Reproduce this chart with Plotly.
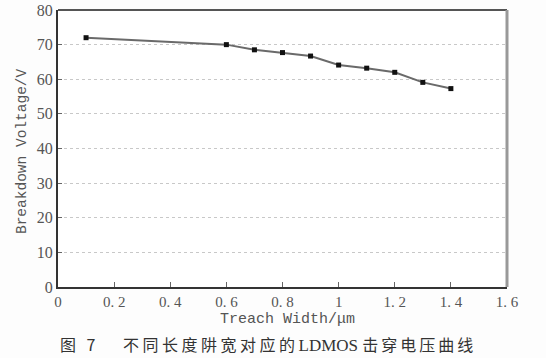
import plotly.graph_objects as go

width_um = [0.1, 0.6, 0.7, 0.8, 0.9, 1.0, 1.1, 1.2, 1.3, 1.4]
breakdown_v = [72.0, 70.0, 68.5, 67.7, 66.7, 64.1, 63.2, 62.0, 59.1, 57.3]

x_tickvals = [0, 0.2, 0.4, 0.6, 0.8, 1.0, 1.2, 1.4, 1.6]
x_ticktext = ["0", "0. 2", "0. 4", "0. 6", "0. 8", "1", "1. 2", "1. 4", "1. 6"]
y_tickvals = [0, 10, 20, 30, 40, 50, 60, 70, 80]

x_title = "Treach Width/μm"
y_title = "Breakdown Voltage/V"
caption_fig = "图 7"
caption_a = "不同长度阱宽对应的"
caption_b = "LDMOS"
caption_c = "击穿电压曲线"

fig = go.Figure()
fig.add_trace(go.Scatter(
    x=width_um, y=breakdown_v, mode="lines+markers",
    line=dict(color="#6a6a6a", width=2),
    marker=dict(symbol="square", size=5, color="#111111"),
    showlegend=False, hoverinfo="skip",
))

serif = "Liberation Serif, Times New Roman, serif"
mono = "Liberation Mono, Courier New, monospace"

caption_html = (
    '<span style="letter-spacing:3.5px">' + caption_fig + '</span>'
    + '\u2003\u2002'
    + '<span style="letter-spacing:3.5px">' + caption_a + '</span>'
    + '<span style="font-family:Liberation Serif;font-size:17px">' + caption_b + ' </span>'
    + '<span style="letter-spacing:3px">' + caption_c + '</span>'
)

fig.update_layout(
    width=546, height=358,
    margin=dict(l=58, r=39, t=10, b=71),
    paper_bgcolor="#fdfdfd", plot_bgcolor="#ffffff",
    xaxis=dict(
        range=[0, 1.6], tickvals=x_tickvals, ticktext=x_ticktext,
        showgrid=False, zeroline=False, automargin=False,
        ticks="inside", ticklen=5, tickcolor="#666666", tickwidth=1,
        showline=True, linecolor="#333333", linewidth=2, mirror=False,
        tickfont=dict(family=serif, size=15, color="#555555"),
    ),
    yaxis=dict(
        range=[0, 80], tickvals=y_tickvals, automargin=False,
        showgrid=True, gridcolor="#c8c8c8", griddash="dot", gridwidth=1,
        zeroline=False,
        ticks="inside", ticklen=4, tickcolor="#666666", tickwidth=1,
        showline=True, linecolor="#333333", linewidth=2,
        tickfont=dict(family=serif, size=16, color="#555555"),
    ),
    shapes=[
        dict(type="line", xref="paper", yref="paper", x0=0, x1=1, y0=1, y1=1,
             line=dict(color="#555555", width=2)),
        dict(type="line", xref="paper", yref="paper", x0=1, x1=1, y0=0, y1=1,
             line=dict(color="#999999", width=3)),
    ],
    annotations=[
        dict(text=y_title, xref="paper", yref="paper", x=-0.080, y=0.491,
             xanchor="center", yanchor="middle", textangle=-90, showarrow=False,
             font=dict(family=mono, size=14.5, color="#555555")),
        dict(text=x_title, xref="paper", yref="paper", x=0.511, y=-0.119,
             xanchor="center", yanchor="middle", showarrow=False,
             font=dict(family=mono, size=15, color="#555555")),
        dict(text=caption_html,
             xref="paper", yref="paper", x=0.468, y=-0.207,
             xanchor="center", yanchor="middle", showarrow=False,
             font=dict(family="Noto Sans CJK SC, serif", size=16, color="#333333")),
    ],
)

fig.write_html("out.html", config={"displayModeBar": False},
               post_script="document.body.style.margin='0';")
